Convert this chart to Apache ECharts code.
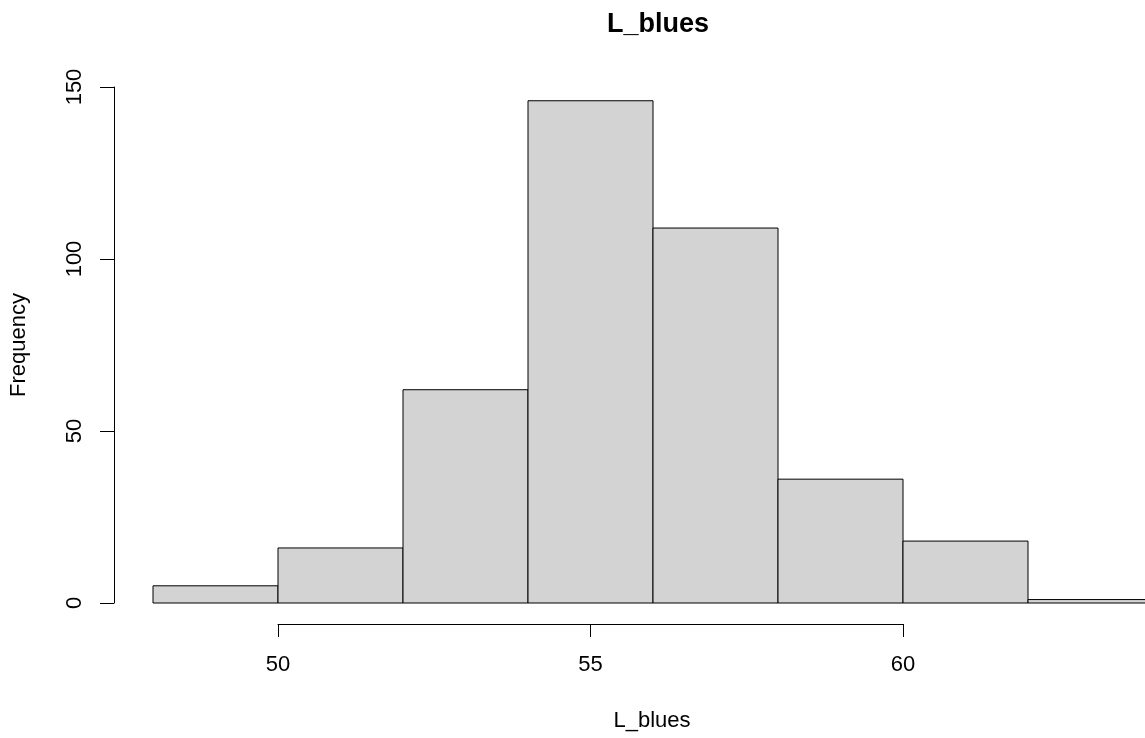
<!DOCTYPE html>
<html>
<head>
<meta charset="utf-8">
<script src="https://cdn.jsdelivr.net/npm/echarts@6/dist/echarts.min.js"></script>
<style>
  html, body { margin: 0; padding: 0; background: #fff; }
</style>
</head>
<body>
<div id="chart" style="width: 1145px; height: 738px"></div>
<script>
// histogram bins (L_blues)
var binStarts = [48, 50, 52, 54, 56, 58, 60, 62];
var binEnds = [50, 52, 54, 56, 58, 60, 62, 64];
var counts = [5, 16, 62, 146, 109, 36, 18, 1];
// axis ranges / ticks
var xTicks = [50, 55, 60];
var yTicks = [0, 50, 100, 150];
// the plot runs past the right edge of the picture; this is the x value at the edge
var xVisibleMax = 63.872;

var font = "'Liberation Sans', Arial, sans-serif";

var chartDom = document.getElementById("chart");
var myChart = echarts.init(chartDom);

var barData = [];
for (var i = 0; i < counts.length; i++) {
  barData.push([binStarts[i], binEnds[i], counts[i]]);
}

var option = {
  animation: false,
  title: {
    text: "L_blues",
    left: 653,
    top: 6,
    textAlign: "center",
    textStyle: {
      fontFamily: font,
      fontSize: 27,
      fontWeight: "bold",
      color: "#000",
    },
  },
  grid: [
    // data area
    { left: 153, top: 87, right: 0, height: 516 },
    // axis area, 50..60 on x (R draws the axis only over the ticks)
    { left: 278, top: 87, width: 625, height: 516 },
  ],
  xAxis: [
    {
      // hidden data axis, only carries the x label centred on the plot
      gridIndex: 0,
      type: "value",
      min: binStarts[0],
      max: xVisibleMax,
      name: "L_blues",
      nameLocation: "middle",
      nameGap: 107,
      nameTextStyle: {
        fontFamily: font,
        fontSize: 22,
        color: "#000",
        padding: [0, 0, 0, 6],
      },
      axisLine: { show: false },
      axisTick: { show: false },
      axisLabel: { show: false },
      splitLine: { show: false },
    },
    {
      gridIndex: 1,
      type: "value",
      min: xTicks[0],
      max: xTicks[xTicks.length - 1],
      interval: 5,
      offset: 21,
      axisLine: { show: true, onZero: false, lineStyle: { color: "#000", width: 1 } },
      axisTick: { show: true, length: 13, lineStyle: { color: "#000" } },
      axisLabel: { fontFamily: font, fontSize: 22, color: "#000", margin: 30 },
      splitLine: { show: false },
    },
  ],
  yAxis: [
    {
      gridIndex: 0,
      type: "value",
      min: yTicks[0],
      max: yTicks[yTicks.length - 1],
      interval: 50,
      offset: 39,
      name: "Frequency",
      nameLocation: "middle",
      nameRotate: 90,
      nameGap: 84,
      nameTextStyle: { fontFamily: font, fontSize: 22, color: "#000" },
      axisLine: { show: true, onZero: false, lineStyle: { color: "#000", width: 1 } },
      axisTick: { show: true, length: 14, lineStyle: { color: "#000" } },
      axisLabel: {
        fontFamily: font,
        fontSize: 22,
        color: "#000",
        rotate: 90,
        margin: 28,
      },
      splitLine: { show: false },
    },
    {
      gridIndex: 1,
      type: "value",
      min: 0,
      max: 150,
      show: false,
    },
  ],
  series: [
    {
      type: "custom",
      xAxisIndex: 0,
      yAxisIndex: 0,
      clip: false,
      data: barData,
      renderItem: function (params, api) {
        var p0 = api.coord([api.value(0), api.value(2)]);
        var p1 = api.coord([api.value(1), 0]);
        return {
          type: "rect",
          shape: {
            x: p0[0],
            y: p0[1],
            width: p1[0] - p0[0],
            height: p1[1] - p0[1],
          },
          style: {
            fill: "#D3D3D3",
            stroke: "#000",
            lineWidth: 1,
          },
        };
      },
    },
  ],
};

option && myChart.setOption(option);
</script>
</body>
</html>
